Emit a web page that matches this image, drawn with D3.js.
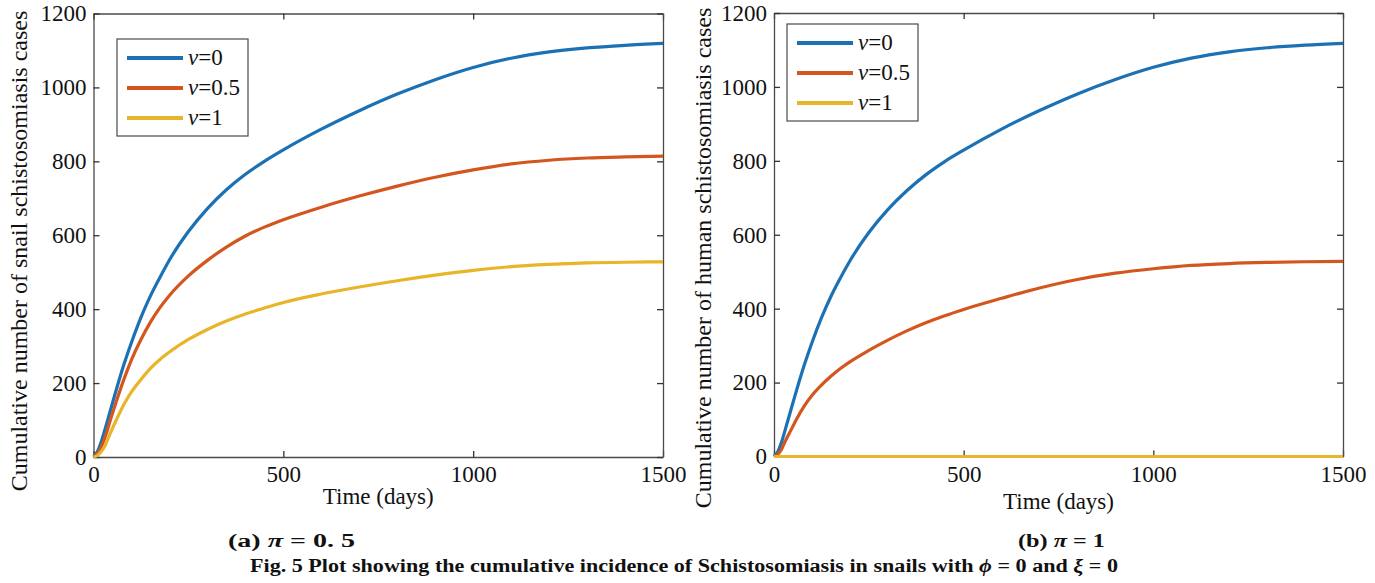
<!DOCTYPE html>
<html>
<head>
<meta charset="utf-8">
<script src="https://cdn.jsdelivr.net/npm/d3@7/dist/d3.min.js"></script>
<style>
  html, body { margin: 0; padding: 0; background: #fff; }
  svg { display: block; }
  text { font-family: "Liberation Serif", "Times New Roman", Times, serif; fill: #111; }
</style>
</head>
<body>
<svg id="fig" width="1375" height="583"></svg>
<script>
// Time grid (days) shared by every curve
const days = [0, 10, 20, 30, 45, 60, 80, 100, 125, 150, 175, 200, 250, 300, 350, 400, 450, 500,
              600, 700, 800, 900, 1000, 1100, 1200, 1300, 1400, 1500];

// Panel (a): cumulative snail cases, pi = 0.5
const snailNu0   = [0, 14, 40, 74, 128, 182, 250, 310, 378, 436, 486, 533, 610, 672, 723, 765, 800, 831,
                    887, 937, 982, 1021, 1054, 1079, 1096, 1107, 1114, 1119];
const snailNu05  = [0, 8, 26, 52, 102, 150, 210, 263, 318, 365, 404, 437, 490, 532, 568, 598, 622, 642,
                    676, 706, 733, 757, 777, 793, 803, 809, 812, 814];
const snailNu1   = [0, 4, 14, 30, 66, 100, 142, 176, 210, 240, 264, 284, 318, 345, 368, 387, 403, 418,
                    441, 460, 477, 492, 505, 515, 521, 525, 527, 528];

// Panel (b): cumulative human cases, pi = 1
const humanNu0   = [0, 13, 39, 74, 128, 181, 248, 308, 375, 433, 483, 529, 606, 668, 719, 762, 798, 829,
                    886, 936, 981, 1020, 1053, 1078, 1095, 1106, 1113, 1118];
const humanNu05  = [0, 6, 20, 42, 72, 102, 137, 165, 193, 217, 238, 256, 287, 315, 340, 362, 381, 398,
                    428, 456, 479, 496, 508, 517, 522, 525, 527, 528];
const humanNu1   = [0, 0, 0, 0, 0, 0, 0, 0, 0, 0, 0, 0, 0, 0, 0, 0, 0, 0,
                    0, 0, 0, 0, 0, 0, 0, 0, 0, 0];

const legendLabels = ["0", "0.5", "1"];
const xTicks = [0, 500, 1000, 1500];
const yTicks = [0, 200, 400, 600, 800, 1000, 1200];
const colors = ["#1b71b3", "#d4561f", "#e8b428"];

const svg = d3.select("#fig");
const serif = '"Liberation Serif", "Times New Roman", Times, serif';

function drawPanel(opt) {
  const g = svg.append("g").attr("transform", `translate(${opt.left},${opt.top})`);
  const w = opt.width, h = opt.height;
  const x = d3.scaleLinear().domain([0, 1500]).range([0, w]);
  const y = d3.scaleLinear().domain([0, 1200]).range([h, 0]);
  const tk = 6;

  // axes, ticks pointing inward on all four sides
  const axisStyle = sel => {
    sel.selectAll("path.domain").attr("stroke", "#4a4a4a").attr("stroke-width", 1.3);
    sel.selectAll(".tick line").attr("stroke", "#333").attr("stroke-width", 1.3);
    sel.selectAll(".tick text").style("font-family", serif)
       .style("font-size", "23px").attr("fill", "#111");
  };
  g.append("g").attr("transform", `translate(0,${h})`)
    .call(d3.axisBottom(x).tickValues(xTicks).tickSizeInner(-tk).tickSizeOuter(0).tickPadding(8).tickFormat(d3.format("d")))
    .call(axisStyle)
    .call(a => a.selectAll(".tick text").attr("dy", "0.75em"));
  g.append("g")
    .call(d3.axisTop(x).tickValues(xTicks).tickSizeInner(-tk).tickSizeOuter(0).tickFormat(""))
    .call(axisStyle);
  g.append("g")
    .call(d3.axisLeft(y).tickValues(yTicks).tickSizeInner(-tk).tickSizeOuter(0).tickPadding(7).tickFormat(d3.format("d")))
    .call(axisStyle);
  g.append("g").attr("transform", `translate(${w},0)`)
    .call(d3.axisRight(y).tickValues(yTicks).tickSizeInner(-tk).tickSizeOuter(0).tickFormat(""))
    .call(axisStyle);

  // curves, drawn over the axis frame
  const line = d3.line()
    .x((d, i) => x(days[i]))
    .y(d => y(d))
    .curve(d3.curveMonotoneX);
  opt.series.forEach((s, k) => {
    g.append("path")
      .datum(s)
      .attr("fill", "none")
      .attr("stroke", colors[k])
      .attr("stroke-width", 3.2)
      .attr("stroke-linejoin", "round")
      .attr("d", line);
  });

  // axis titles
  g.append("text")
    .attr("x", w / 2).attr("y", h + opt.xTitleDy)
    .attr("text-anchor", "middle")
    .style("font-size", "23px")
    .text("Time (days)");
  g.append("text")
    .attr("transform", `translate(${opt.yTitleX},${opt.yTitleY}) rotate(-90)`)
    .attr("text-anchor", "middle")
    .style("font-size", "24px")
    .text(opt.yTitle);

  // legend
  const lg = g.append("g").attr("transform", `translate(${opt.legend[0]},${opt.legend[1]})`);
  lg.append("rect")
    .attr("width", 131).attr("height", 97)
    .attr("fill", "#fff").attr("stroke", "#4a4a4a").attr("stroke-width", 1.2);
  legendLabels.forEach((lab, k) => {
    const cy = 19 + k * 30;
    lg.append("line")
      .attr("x1", 10).attr("x2", 66).attr("y1", cy).attr("y2", cy)
      .attr("stroke", colors[k]).attr("stroke-width", 4);
    const t = lg.append("text").attr("x", 71).attr("y", cy + 7).style("font-size", "23px");
    t.append("tspan").style("font-style", "italic").text("ν");
    t.append("tspan").text("=" + lab);
  });
}

drawPanel({
  left: 93.5, top: 13.5, width: 569.5, height: 443.5,
  series: [snailNu0, snailNu05, snailNu1],
  yTitle: "Cumulative number of snail schistosomiasis cases",
  yTitleX: -66.5, yTitleY: 237.5, xTitleDy: 47,
  legend: [23.5, 25.5]
});

drawPanel({
  left: 774, top: 13, width: 569, height: 443.5,
  series: [humanNu0, humanNu05, humanNu1],
  yTitle: "Cumulative number of human schistosomiasis cases",
  yTitleX: -63, yTitleY: 245, xTitleDy: 52.5,
  legend: [13, 11]
});

// sub-captions and figure caption
const cap = svg.append("g").style("font-weight", "bold");
function caption(xPos, yPos, parts, len) {
  const t = cap.append("text").attr("x", xPos).attr("y", yPos).style("font-size", "18px");
  parts.forEach(p => t.append("tspan").style("font-style", p[1] ? "italic" : "normal").text(p[0]));
  if (len) t.attr("textLength", len).attr("lengthAdjust", "spacingAndGlyphs");
}
caption(228, 547, [["(a) ", false], ["π", true], [" = 0. 5", false]], 127);
caption(1018, 547, [["(b) ", false], ["π", true], [" = 1", false]], 87);
caption(250, 572, [["Fig. 5 Plot showing the cumulative incidence of Schistosomiasis in snails with ", false],
                   ["ϕ", true], [" = 0 and ", false], ["ξ", true], [" = 0", false]], 868);
</script>
</body>
</html>
